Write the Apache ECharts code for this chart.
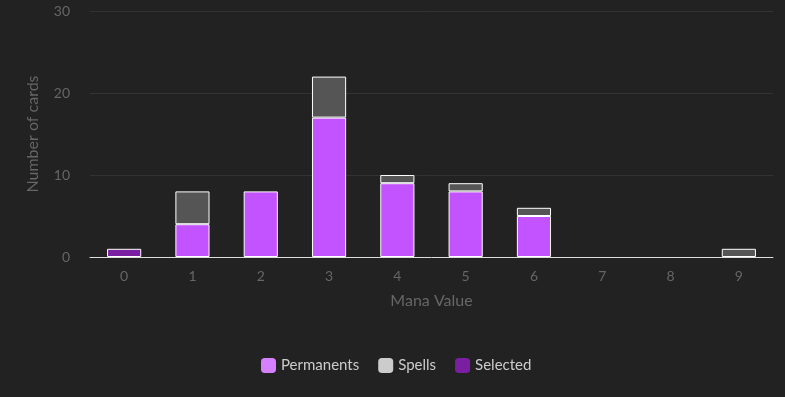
<!DOCTYPE html>
<html><head><meta charset="utf-8">
<script src="https://cdn.jsdelivr.net/npm/echarts@6/dist/echarts.min.js"></script>
<style>html,body{margin:0;padding:0;background:#222;}#c{width:785px;height:397px;}</style>
</head><body><div id="c"></div>
<script>
const categories = ['0','1','2','3','4','5','6','7','8','9'];
const permanents = [0,4,8,17,9,8,5,0,0,0];
const spells = [0,4,0,5,1,1,1,0,0,1];
const selected = [1,0,0,0,0,0,0,0,0,0];
const seriesNames = ['Permanents','Spells','Selected'];
const yTicks = [0,10,20,30];

const nz = arr => arr.map(v => v === 0 ? '-' : v);
const chart = echarts.init(document.getElementById('c'));
const font = 'Lato';
const border = {borderColor:'#fff', borderWidth:1};
chart.setOption({
  backgroundColor:'#222',
  textStyle:{fontFamily:font},
  grid:{left:90, right:12, top:11, bottom:140},
  legend:{
    left:256, bottom:19, itemWidth:15, itemHeight:15, itemGap:19, icon:'roundRect',
    textStyle:{color:'#ccc', fontSize:15, fontFamily:font},
    data:[
      {name:seriesNames[0], itemStyle:{color:'#d580ff', borderWidth:0}},
      {name:seriesNames[1], itemStyle:{color:'#cccccc', borderWidth:0}},
      {name:seriesNames[2], itemStyle:{color:'#7b1fa2', borderWidth:0}}
    ]
  },
  xAxis:{
    type:'category', data:categories,
    name:'Mana Value', nameLocation:'middle', nameGap:36,
    nameTextStyle:{color:'#666', fontSize:16},
    axisLine:{lineStyle:{color:'#ddd'}},
    axisTick:{show:false},
    axisLabel:{color:'#666', fontSize:14, margin:12}
  },
  yAxis:{
    type:'value', min:yTicks[0], max:yTicks[yTicks.length-1], interval:10,
    name:'Number of cards', nameLocation:'middle', nameGap:49,
    nameTextStyle:{color:'#666', fontSize:16},
    axisLine:{show:false}, axisTick:{show:false},
    axisLabel:{color:'#666', fontSize:14, margin:20},
    splitLine:{lineStyle:{color:'#333'}}
  },
  series:[
    {name:seriesNames[0], type:'bar', stack:'a', barWidth:'50%', data:nz(permanents),
     itemStyle:Object.assign({color:'#c352ff'}, border)},
    {name:seriesNames[1], type:'bar', stack:'a', data:nz(spells),
     itemStyle:Object.assign({color:'#555'}, border)},
    {name:seriesNames[2], type:'bar', stack:'a', data:nz(selected),
     itemStyle:Object.assign({color:'#7b1fa2'}, border)}
  ]
});
</script></body></html>
